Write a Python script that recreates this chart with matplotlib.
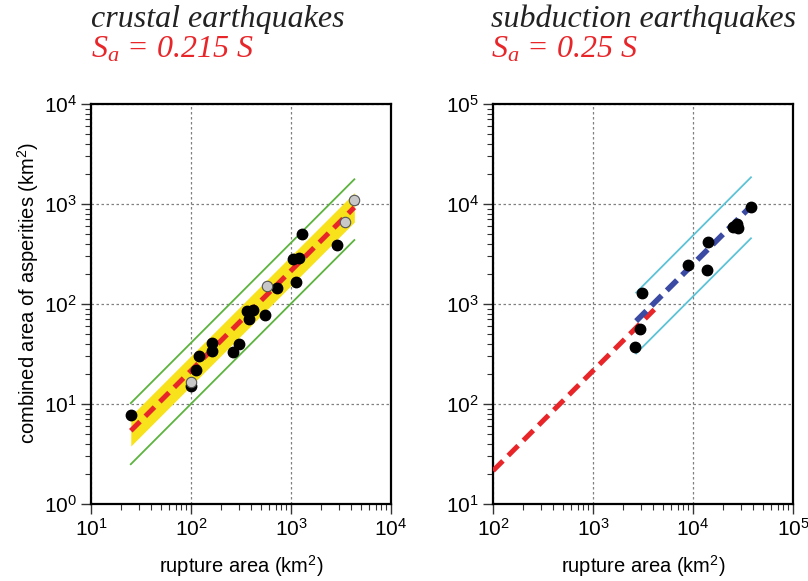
import matplotlib
matplotlib.use("Agg")
import matplotlib.pyplot as plt
from matplotlib.ticker import LogLocator, NullFormatter

plt.rcParams['font.family'] = ['Liberation Sans', 'DejaVu Sans']
plt.rcParams['mathtext.fontset'] = 'custom'
plt.rcParams['mathtext.it'] = 'Liberation Serif:italic'
plt.rcParams['mathtext.rm'] = 'Liberation Serif:italic'

# crustal earthquakes (rupture area, asperity area) km2
crust_x = [25, 100, 112, 119, 162, 162, 265, 300, 360, 414, 383, 545, 724,
           1040, 1211, 1130, 1290, 2900]
crust_y = [7.7, 15, 22, 30, 41, 34, 33, 40, 86, 88, 71, 77, 145,
           285, 290, 165, 500, 390]
crust_gray_x = [100, 571, 3440, 4300]
crust_gray_y = [16.5, 152, 660, 1090]

# fit lines, left panel
fit_x = [25, 4300]
fit_y = [5.4, 925]
band_lo = [3.8, 660]
band_hi = [7.6, 1300]
green_hi = [10.2, 1766]
green_lo = [2.5, 436]

# subduction earthquakes
subd_x = [38000, 25000, 27500, 28000, 14100, 8950, 13800, 3100, 2950, 2650]
subd_y = [9300, 5950, 6300, 5800, 4200, 2450, 2200, 1280, 560, 370]

red_x = [100, 4100]
red_y = [21.5, 880]
blue_x = [2700, 38000]
blue_y = [675, 9500]
cyan_hi = [1300, 18500]
cyan_lo = [320, 4540]

fig = plt.figure(figsize=(8.08, 5.81), dpi=100)
ax1 = fig.add_axes([91/808, 77/581, 300/808, 400/581])
ax2 = fig.add_axes([493/808, 77/581, 300/808, 400/581])

RED = '#e8262a'
YEL = '#f7e21b'
GRN = '#5cb33e'
BLU = '#3b4aa3'
CYN = '#5cc3d6'


def style(ax, xlim, ylim):
    ax.set_xscale('log')
    ax.set_yscale('log')
    ax.set_xlim(*xlim)
    ax.set_ylim(*ylim)
    for a in (ax.xaxis, ax.yaxis):
        a.set_major_locator(LogLocator(base=10, numticks=10))
        a.set_minor_locator(LogLocator(base=10, subs=range(2, 10), numticks=20))
        a.set_minor_formatter(NullFormatter())
    ax.tick_params(which='both', direction='out', top=False, right=False,
                   labelsize=15, color='#333333')
    ax.tick_params(which='major', length=7, width=1, pad=3)
    ax.tick_params(which='minor', length=4, width=0.8)
    ax.grid(True, which='major', color='#808080', linestyle=(0, (2, 2)), linewidth=0.9)
    for s in ax.spines.values():
        s.set_linewidth(1.6)
    ax.set_axisbelow(True)


style(ax1, (10, 1e4), (1, 1e4))
style(ax2, (100, 1e5), (10, 1e5))

# left panel
ax1.fill_between(fit_x, band_lo, band_hi, color=YEL, lw=0, zorder=2)
ax1.plot(fit_x, green_hi, color=GRN, lw=1.3, zorder=2)
ax1.plot(fit_x, green_lo, color=GRN, lw=1.3, zorder=2)
ax1.plot(fit_x, fit_y, color=RED, lw=3.6, dashes=(2.6, 1.5), zorder=3)
ax1.plot(crust_x, crust_y, 'o', color='black', ms=7.5, zorder=4)
ax1.plot(crust_gray_x, crust_gray_y, 'o', mfc='#c8c8c8', mec='#555555',
         mew=0.8, ms=7.5, zorder=5)

# right panel
ax2.plot(red_x, red_y, color=RED, lw=3.6, dashes=(2.8, 1.5), zorder=3)
ax2.plot(blue_x, cyan_hi, color=CYN, lw=1.3, zorder=2)
ax2.plot(blue_x, cyan_lo, color=CYN, lw=1.3, zorder=2)
ax2.plot(blue_x, blue_y, color=BLU, lw=4, dashes=(2.6, 1.3), zorder=3)
ax2.plot(subd_x, subd_y, 'o', color='black', ms=7.5, zorder=4)

# titles
tfont = dict(family='Liberation Serif', style='italic', fontsize=23)
fig.text(91/808, 1 - 27/581, 'crustal earthquakes', color='#222222', **tfont)
fig.text(91/808, 1 - 58/581, r'$S_a$ = 0.215 S', color=RED, **tfont)
fig.text(491/808, 1 - 27/581, 'subduction earthquakes', color='#222222', **tfont)
fig.text(491/808, 1 - 58/581, r'$S_a$ = 0.25 S', color=RED, **tfont)

# axis labels
fig.text(28/808, 1 - 293/581, 'combined area of asperities (km$^\\mathregular{2}$)',
         rotation=90, ha='center', va='center', fontsize=14.5)
fig.text(241/808, 1 - 566/581, 'rupture area (km$^\\mathregular{2}$)',
         ha='center', va='center', fontsize=14.5)
fig.text(643/808, 1 - 566/581, 'rupture area (km$^\\mathregular{2}$)',
         ha='center', va='center', fontsize=14.5)

fig.savefig('out.png', dpi=100)
